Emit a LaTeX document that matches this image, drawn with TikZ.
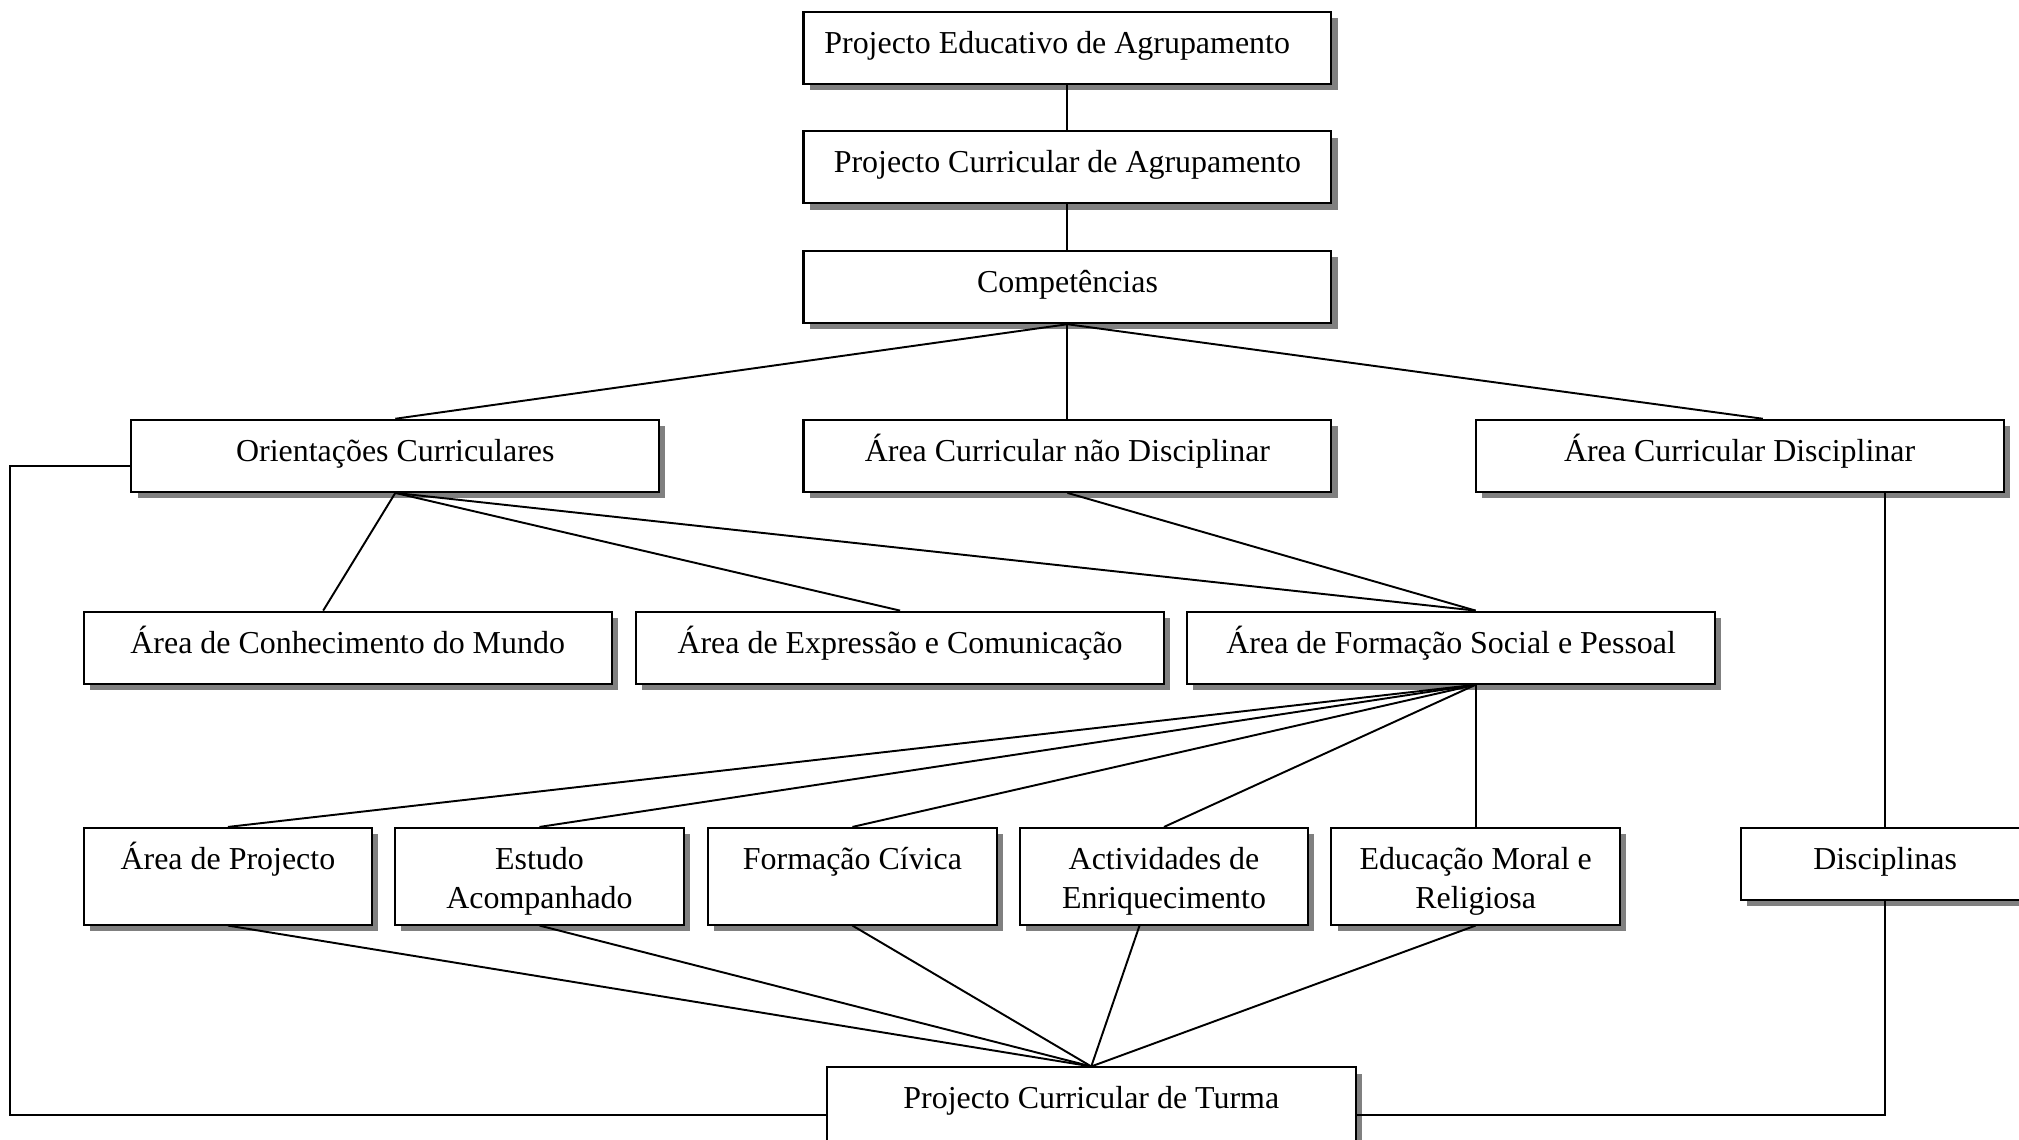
\documentclass[tikz,border=0pt]{standalone}
\usepackage{fontspec}
\setmainfont{Liberation Serif}
\usetikzlibrary{shadows,calc}
\begin{document}
\begin{tikzpicture}[x=0.5pt,y=-0.5pt,
  boxn/.style={draw, line width=0.8pt, fill=white, inner sep=0pt,
    drop shadow={shadow xshift=2.4pt, shadow yshift=-2.4pt, fill=black!50, opacity=1}},
  wide/.style={minimum width=205pt, minimum height=28pt},
  small/.style={minimum width=112pt, minimum height=37.5pt},
  lbl/.style={anchor=base, inner sep=0pt, font=\fontsize{12.4}{15}\selectfont},
  conn/.style={line width=0.75pt}]
\useasboundingbox (0,0) rectangle (1568,885);
\clip (0,0) rectangle (1568,885);
\fill[white] (0,0) rectangle (1568,885);

% boxes
\node[boxn, wide] (pea)  at (829,37)  {};
\node[boxn, wide] (pca)  at (829,130) {};
\node[boxn, wide] (comp) at (829,223) {};
\node[boxn, wide] (orc)  at (307,354) {};
\node[boxn, wide] (acnd) at (829,354) {};
\node[boxn, wide] (acd)  at (1351,354) {};
\node[boxn, wide] (acm)  at (270,503) {};
\node[boxn, wide] (aec)  at (699,503) {};
\node[boxn, wide] (afsp) at (1127,503) {};
\node[boxn, small] (ap)  at (177,680.5) {};
\node[boxn, small] (ea)  at (419,680.5) {};
\node[boxn, small] (fc)  at (662,680.5) {};
\node[boxn, small] (ae)  at (904,680.5) {};
\node[boxn, small] (emr) at (1146,680.5) {};
\node[boxn, minimum width=112pt, minimum height=28pt] (disc) at (1464,671) {};
\node[boxn, minimum width=205.5pt, minimum height=30pt] (pct) at (847.5,859) {};

% texts
\node[lbl] (pea-t)  at ($(pea.north)+(-8,33)$)  {Projecto Educativo de Agrupamento};
\node[lbl] (pca-t)  at ($(pca.north)+(0,33)$)   {Projecto Curricular de Agrupamento};
\node[lbl] (comp-t) at ($(comp.north)+(0,33)$)  {Competências};
\node[lbl] (orc-t)  at ($(orc.north)+(0,33)$)   {Orientações Curriculares};
\node[lbl] (acnd-t) at ($(acnd.north)+(0,33)$)  {Área Curricular não Disciplinar};
\node[lbl] (acd-t)  at ($(acd.north)+(0,33)$)   {Área Curricular Disciplinar};
\node[lbl] (acm-t)  at ($(acm.north)+(0,33)$)   {Área de Conhecimento do Mundo};
\node[lbl] (aec-t)  at ($(aec.north)+(0,33)$)   {Área de Expressão e Comunicação};
\node[lbl] (afsp-t) at ($(afsp.north)+(0,33)$)  {Área de Formação Social e Pessoal};
\node[lbl] (ap-t)   at ($(ap.north)+(0,33)$)    {Área de Projecto};
\node[lbl] (ea-t)   at ($(ea.north)+(0,33)$)    {\begin{tabular}[t]{@{}c@{}}Estudo\\Acompanhado\end{tabular}};
\node[lbl] (fc-t)   at ($(fc.north)+(0,33)$)    {Formação Cívica};
\node[lbl] (ae-t)   at ($(ae.north)+(0,33)$)    {\begin{tabular}[t]{@{}c@{}}Actividades de\\Enriquecimento\end{tabular}};
\node[lbl] (emr-t)  at ($(emr.north)+(0,33)$)   {\begin{tabular}[t]{@{}c@{}}Educação Moral e\\Religiosa\end{tabular}};
\node[lbl] (disc-t) at ($(disc.north)+(0,33)$)  {Disciplinas};
\node[lbl] (pct-t)  at ($(pct.north)+(0,33)$)   {Projecto Curricular de Turma};

% connectors
\draw[conn] (pea.south) -- (pca.north);
\draw[conn] (pca.south) -- (comp.north);
\draw[conn] (comp.south) -- (orc.north);
\draw[conn] (comp.south) -- (acnd.north);
\draw[conn] (comp.south) -- ($(acd.north)+(18,0)$);
\draw[conn] (orc.south) -- ($(acm.north)+(-19,0)$);
\draw[conn] (orc.south) -- (aec.north);
\draw[conn] (orc.south) -- ($(afsp.north)+(19,0)$);
\draw[conn] (acnd.south) -- ($(afsp.north)+(19,0)$);
\coordinate (fs) at ($(afsp.south)+(19,0)$);
\draw[conn] (fs) -- (ap.north);
\draw[conn] (fs) -- (ea.north);
\draw[conn] (fs) -- (fc.north);
\draw[conn] (fs) -- (ae.north);
\draw[conn] (fs) -- (emr.north);
\draw[conn] (disc.north |- acd.south) -- (disc.north);
\draw[conn] (ap.south) -- (pct.north);
\draw[conn] (ea.south) -- (pct.north);
\draw[conn] (fc.south) -- (pct.north);
\draw[conn] ($(ae.south)+(-19,0)$) -- (pct.north);
\draw[conn] (emr.south) -- (pct.north);
\draw[conn] (disc.south) |- ($(pct.east)+(0,7)$);
\coordinate (lcorner) at (8,866);
\draw[conn] ($(orc.west)+(0,8)$) -| (lcorner) -- ($(pct.west)+(0,7)$);
\end{tikzpicture}
\end{document}
